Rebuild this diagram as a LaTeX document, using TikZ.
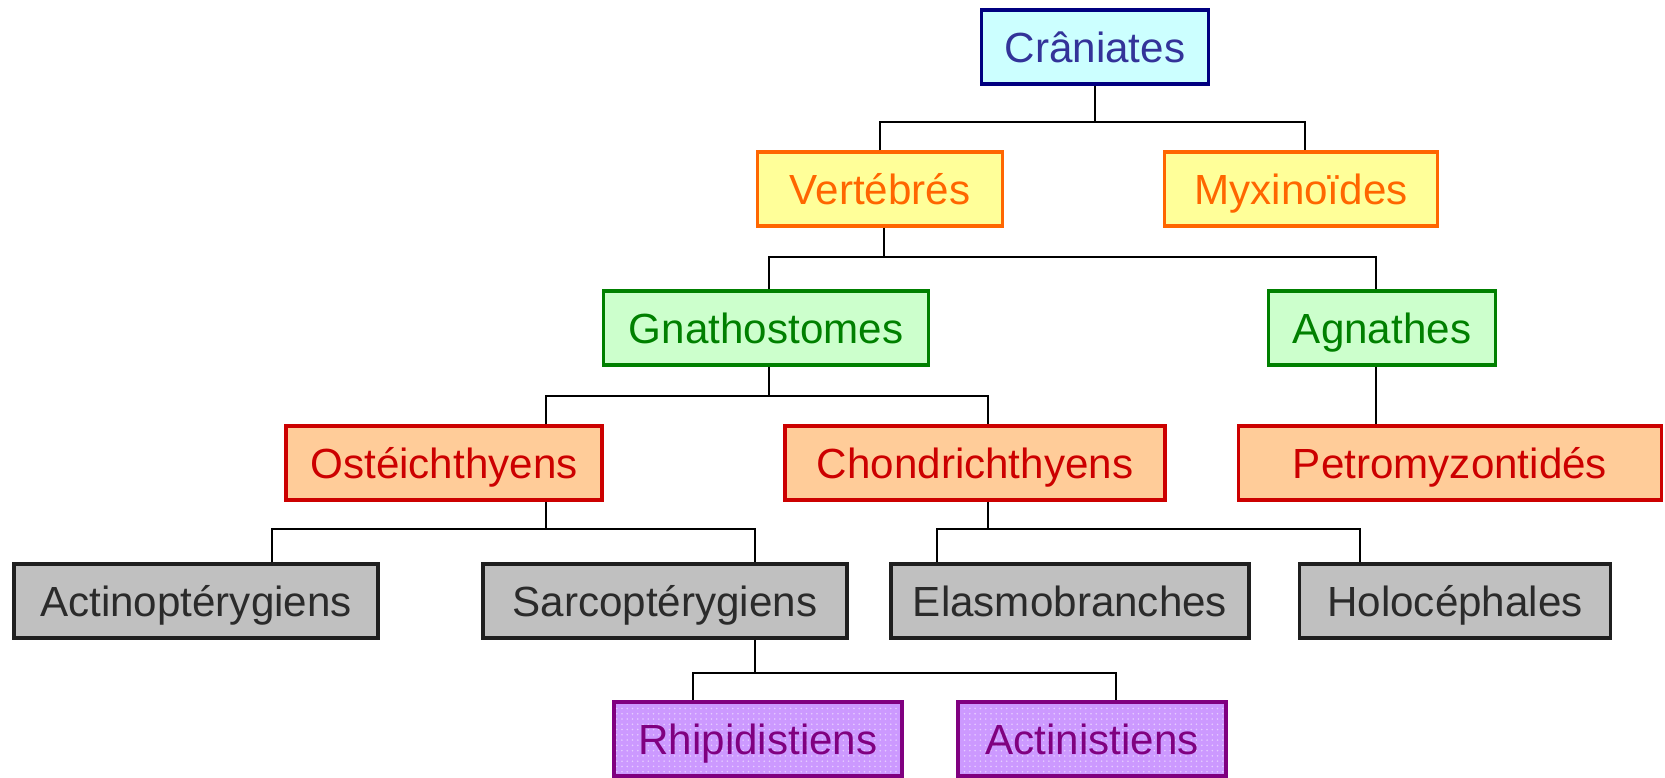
\documentclass[tikz,border=0pt]{standalone}
\usepackage{fontspec}
\setmainfont{Liberation Sans}
\usetikzlibrary{calc,patterns}
\definecolor{cranfill}{HTML}{CCFFFF}
\definecolor{cranline}{HTML}{000080}
\definecolor{crantext}{HTML}{333399}
\definecolor{vertfill}{HTML}{FFFF99}
\definecolor{vertline}{HTML}{FF6600}
\definecolor{gnatfill}{HTML}{CCFFCC}
\definecolor{gnatline}{HTML}{008000}
\definecolor{ostefill}{HTML}{FFCC99}
\definecolor{osteline}{HTML}{CC0000}
\definecolor{greyfill}{HTML}{C0C0C0}
\definecolor{greyline}{HTML}{1F1F1F}
\definecolor{greytext}{HTML}{2B2B2B}
\definecolor{purpfill}{HTML}{CC99FF}
\definecolor{purpline}{HTML}{800080}
\definecolor{purpdot}{HTML}{E6CCFF}
\tikzset{
  box/.style={draw, line width=1.8pt, minimum height=1.48cm, inner sep=0pt,
    text height=17.2pt, text depth=0pt, font=\fontsize{24}{28}\selectfont},
  cranbox/.style={box, draw=cranline, fill=cranfill, text=crantext},
  vertbox/.style={box, draw=vertline, fill=vertfill, text=vertline},
  gnatbox/.style={box, draw=gnatline, fill=gnatfill, text=gnatline},
  ostebox/.style={box, draw=osteline, fill=ostefill, text=osteline},
  greybox/.style={box, draw=greyline, fill=greyfill, text=greytext},
  purpbox/.style={box, draw=purpline, preaction={fill=purpfill},
    pattern=dots, pattern color=purpdot, text=purpline},
  tie/.style={black, line width=1pt},
}

\begin{document}
\begin{tikzpicture}[x=0.02cm, y=-0.02cm]
    \useasboundingbox (0,0) rectangle (1665,777);
    \node[cranbox, minimum width=4.54cm] (cran) at (1095,47) {Crâniates};
    \node[vertbox, minimum width=4.9cm] (vert) at (880,189) {Vertébrés};
    \node[vertbox, minimum width=5.46cm] (myxi) at (1301,189) {Myxinoïdes};
    \node[gnatbox, minimum width=6.5cm] (gnat) at (766,328) {Gnathostomes};
    \node[gnatbox, minimum width=4.54cm] (agna) at (1382,328) {Agnathes};
    \node[ostebox, minimum width=6.32cm] (oste) at (444,463) {Ostéichthyens};
    \node[ostebox, minimum width=7.6cm] (chon) at (975,463) {Chondrichthyens};
    \node[ostebox, minimum width=8.46cm] (petr) at (1450,463) {Petromyzontidés};
    \node[greybox, minimum width=7.28cm] (actp) at (196,601) {Actinoptérygiens};
    \node[greybox, minimum width=7.28cm] (sarc) at (665,601) {Sarcoptérygiens};
    \node[greybox, minimum width=7.16cm] (elas) at (1070,601) {Elasmobranches};
    \node[greybox, minimum width=6.22cm] (holo) at (1455,601) {Holocéphales};
    \node[purpbox, minimum width=5.76cm] (rhip) at (758,739) {Rhipidistiens};
    \node[purpbox, minimum width=5.36cm] (actn) at (1092,739) {Actinistiens};
    % levels of the bars
    \coordinate (barA) at (0,122);
    \coordinate (barB) at (0,257);
    \coordinate (barC) at (0,396);
    \coordinate (barD) at (0,529);
    \coordinate (barE) at (0,673);
    % craniates
    \draw[tie] (cran.south) -- (cran.south |- barA);
    \draw[tie] (vert.north) |- ($(myxi.north |- barA)+(4,0)$) -- ($(myxi.north)+(4,0)$);
    % vertebres
    \draw[tie] ($(vert.south)+(4,0)$) -- ($(vert.south |- barB)+(4,0)$);
    \draw[tie] ($(gnat.north)+(3,0)$) |- ($(agna.north |- barB)+(-6,0)$) -- ($(agna.north)+(-6,0)$);
    % agnathes
    \draw[tie] ($(agna.south)+(-6,0)$) -- ($(agna.south |- petr.north)+(-6,0)$);
    % gnathostomes
    \draw[tie] ($(gnat.south)+(3,0)$) -- ($(gnat.south |- barC)+(3,0)$);
    \draw[tie] ($(oste.north)+(102,0)$) |- ($(chon.north |- barC)+(13,0)$) -- ($(chon.north)+(13,0)$);
    % osteichthyens
    \draw[tie] ($(oste.south)+(102,0)$) -- ($(oste.south |- barD)+(102,0)$);
    \draw[tie] ($(actp.north)+(76,0)$) |- ($(sarc.north |- barD)+(90,0)$) -- ($(sarc.north)+(90,0)$);
    % chondrichthyens
    \draw[tie] ($(chon.south)+(13,0)$) -- ($(chon.south |- barD)+(13,0)$);
    \draw[tie] ($(elas.north)+(-133,0)$) |- ($(holo.north |- barD)+(-95,0)$) -- ($(holo.north)+(-95,0)$);
    % sarcopterygiens
    \draw[tie] ($(sarc.south)+(90,0)$) -- ($(sarc.south |- barE)+(90,0)$);
    \draw[tie] ($(rhip.north)+(-65,0)$) |- ($(actn.north |- barE)+(24,0)$) -- ($(actn.north)+(24,0)$);
\end{tikzpicture}
\end{document}
